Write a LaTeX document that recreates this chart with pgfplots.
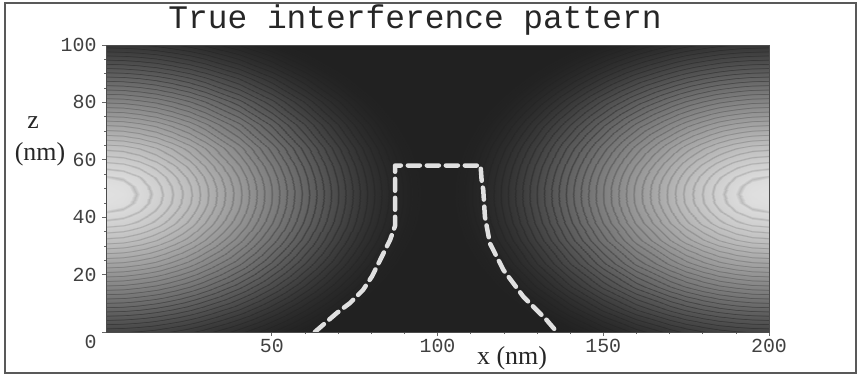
\documentclass[border=0pt]{standalone}
\usepackage{fontspec}
\setmainfont{Liberation Serif}
\newfontfamily\monofont{Liberation Mono}
\usepackage{pgfplots}
\pgfplotsset{compat=1.18}

% grey ramp over the phase-distance value (0..110): bright centre, linear fall-off,
% smooth levelling into the dark floor, with a thin darker contour ring every 2.115
\def\ringspec{}
\foreach \j in {0,...,260}{%
  \pgfmathsetmacro\mm{0.423077*\j}%
  \pgfmathsetmacro\dd{max(0,79.4-\mm)}%
  \pgfmathsetmacro\lin{0.88-0.01117*\mm}%
  \pgfmathsetmacro\qd{0.13+0.000229*\dd*\dd}%
  \pgfmathsetmacro\base{(\mm<55)*\lin+(\mm>=55)*\qd}%
  \pgfmathsetmacro\amp{0.12*min(1,(\base-0.13)/0.25)}%
  \pgfmathtruncatemacro\m{mod(\j,5)}%
  \pgfmathsetmacro\g{\base-(\m==0)*(\j>0)*\amp}%
  \xdef\ringspec{\ringspec gray=(\g) }%
}
\edef\tmp{\noexpand\pgfplotsset{colormap={rings}{\ringspec}}}
\tmp

\begin{document}
\begin{tikzpicture}[x=1bp,y=1bp]
\path[use as bounding box] (0,0) rectangle (859,376);
\begin{axis}[
  at={(106bp,44bp)}, anchor=south west,
  scale only axis, width=663bp, height=287bp,
  xmin=0, xmax=200, ymin=0, ymax=100,
  axis on top,
  colormap name=rings, point meta min=0, point meta max=110,
  xtick={50,100,150,200}, ytick={20,40,60,80,100},
  extra y ticks={0},
  extra y tick style={yticklabel style={yshift=-10bp}},
  minor x tick num=4, minor y tick num=3,
  tick align=outside, tick pos=left,
  major tick length=4bp, minor tick length=2bp,
  axis line style={black!70, line width=0.8bp},
  tick style={black!60, line width=0.6bp},
  /pgf/number format/assume math mode=true,
  ticklabel style={font=\monofont\fontsize{20}{20}\selectfont, text=black!75},
  yticklabel style={xshift=-2bp},
]
\addplot[surf, shader=interp, mesh/cols=27, point meta=explicit] coordinates {
(0,0)[54.7] (5,0)[54.9] (10,0)[55.4] (15,0)[56.2] (20,0)[57.4] (25,0)[58.8] (30,0)[60.5] (40,0)[64.8] (50,0)[69.9] (60,0)[75.8] (70,0)[82.4] (80,0)[89.5] (90,0)[97.0] (100,0)[104.8] (110,0)[97.0] (120,0)[89.5] (130,0)[82.4] (140,0)[75.8] (150,0)[69.9] (160,0)[64.8] (170,0)[60.5] (175,0)[58.8] (180,0)[57.4] (185,0)[56.2] (190,0)[55.4] (195,0)[54.9] (200,0)[54.7]

(0,8)[43.2] (5,8)[43.4] (10,8)[44.0] (15,8)[45.0] (20,8)[46.3] (25,8)[48.0] (30,8)[50.0] (40,8)[54.8] (50,8)[60.6] (60,8)[67.2] (70,8)[74.3] (80,8)[82.0] (90,8)[90.0] (100,8)[98.3] (110,8)[90.0] (120,8)[82.0] (130,8)[74.3] (140,8)[67.2] (150,8)[60.6] (160,8)[54.8] (170,8)[50.0] (175,8)[48.0] (180,8)[46.3] (185,8)[45.0] (190,8)[44.0] (195,8)[43.4] (200,8)[43.2]

(0,16)[32.0] (5,16)[32.2] (10,16)[33.0] (15,16)[34.1] (20,16)[35.7] (25,16)[37.7] (30,16)[40.0] (40,16)[45.6] (50,16)[52.1] (60,16)[59.4] (70,16)[67.2] (80,16)[75.4] (90,16)[83.9] (100,16)[92.7] (110,16)[83.9] (120,16)[75.4] (130,16)[67.2] (140,16)[59.4] (150,16)[52.1] (160,16)[45.6] (170,16)[40.0] (175,16)[37.7] (180,16)[35.7] (185,16)[34.1] (190,16)[33.0] (195,16)[32.2] (200,16)[32.0]

(0,24)[21.2] (5,24)[21.5] (10,24)[22.4] (15,24)[23.8] (20,24)[25.8] (25,24)[28.2] (30,24)[31.0] (40,24)[37.4] (50,24)[44.8] (60,24)[52.8] (70,24)[61.2] (80,24)[70.0] (90,24)[79.0] (100,24)[88.1] (110,24)[79.0] (120,24)[70.0] (130,24)[61.2] (140,24)[52.8] (150,24)[44.8] (160,24)[37.4] (170,24)[31.0] (175,24)[28.2] (180,24)[25.8] (185,24)[23.8] (190,24)[22.4] (195,24)[21.5] (200,24)[21.2]

(0,32)[11.2] (5,32)[11.6] (10,32)[12.8] (15,32)[14.7] (20,32)[17.1] (25,32)[20.0] (30,32)[23.3] (40,32)[30.8] (50,32)[39.0] (60,32)[47.6] (70,32)[56.7] (80,32)[65.9] (90,32)[75.3] (100,32)[84.8] (110,32)[75.3] (120,32)[65.9] (130,32)[56.7] (140,32)[47.6] (150,32)[39.0] (160,32)[30.8] (170,32)[23.3] (175,32)[20.0] (180,32)[17.1] (185,32)[14.7] (190,32)[12.8] (195,32)[11.6] (200,32)[11.2]

(0,38)[5.0] (5,38)[5.5] (10,38)[6.9] (15,38)[9.2] (20,38)[12.0] (25,38)[15.4] (30,38)[19.1] (40,38)[27.2] (50,38)[35.9] (60,38)[45.0] (70,38)[54.3] (80,38)[63.8] (90,38)[73.4] (100,38)[83.1] (110,38)[73.4] (120,38)[63.8] (130,38)[54.3] (140,38)[45.0] (150,38)[35.9] (160,38)[27.2] (170,38)[19.1] (175,38)[15.4] (180,38)[12.0] (185,38)[9.2] (190,38)[6.9] (195,38)[5.5] (200,38)[5.0]

(0,42)[1.9] (5,42)[2.5] (10,42)[4.1] (15,42)[6.6] (20,42)[9.7] (25,42)[13.3] (30,42)[17.2] (40,42)[25.6] (50,42)[34.6] (60,42)[43.9] (70,42)[53.4] (80,42)[63.0] (90,42)[72.6] (100,42)[82.4] (110,42)[72.6] (120,42)[63.0] (130,42)[53.4] (140,42)[43.9] (150,42)[34.6] (160,42)[25.6] (170,42)[17.2] (175,42)[13.3] (180,42)[9.7] (185,42)[6.6] (190,42)[4.1] (195,42)[2.5] (200,42)[1.9]

(0,45)[0.5] (5,45)[1.1] (10,45)[2.8] (15,45)[5.4] (20,45)[8.6] (25,45)[12.3] (30,45)[16.3] (40,45)[24.9] (50,45)[34.0] (60,45)[43.4] (70,45)[52.9] (80,45)[62.6] (90,45)[72.3] (100,45)[82.1] (110,45)[72.3] (120,45)[62.6] (130,45)[52.9] (140,45)[43.4] (150,45)[34.0] (160,45)[24.9] (170,45)[16.3] (175,45)[12.3] (180,45)[8.6] (185,45)[5.4] (190,45)[2.8] (195,45)[1.1] (200,45)[0.5]

(0,48)[0.0] (5,48)[0.6] (10,48)[2.4] (15,48)[5.0] (20,48)[8.3] (25,48)[12.0] (30,48)[16.1] (40,48)[24.7] (50,48)[33.9] (60,48)[43.2] (70,48)[52.8] (80,48)[62.5] (90,48)[72.2] (100,48)[82.0] (110,48)[72.2] (120,48)[62.5] (130,48)[52.8] (140,48)[43.2] (150,48)[33.9] (160,48)[24.7] (170,48)[16.1] (175,48)[12.0] (180,48)[8.3] (185,48)[5.0] (190,48)[2.4] (195,48)[0.6] (200,48)[0.0]

(0,51)[0.5] (5,51)[1.1] (10,51)[2.8] (15,51)[5.4] (20,51)[8.6] (25,51)[12.3] (30,51)[16.3] (40,51)[24.9] (50,51)[34.0] (60,51)[43.4] (70,51)[52.9] (80,51)[62.6] (90,51)[72.3] (100,51)[82.1] (110,51)[72.3] (120,51)[62.6] (130,51)[52.9] (140,51)[43.4] (150,51)[34.0] (160,51)[24.9] (170,51)[16.3] (175,51)[12.3] (180,51)[8.6] (185,51)[5.4] (190,51)[2.8] (195,51)[1.1] (200,51)[0.5]

(0,54)[1.9] (5,54)[2.5] (10,54)[4.1] (15,54)[6.6] (20,54)[9.7] (25,54)[13.3] (30,54)[17.2] (40,54)[25.6] (50,54)[34.6] (60,54)[43.9] (70,54)[53.4] (80,54)[63.0] (90,54)[72.6] (100,54)[82.4] (110,54)[72.6] (120,54)[63.0] (130,54)[53.4] (140,54)[43.9] (150,54)[34.6] (160,54)[25.6] (170,54)[17.2] (175,54)[13.3] (180,54)[9.7] (185,54)[6.6] (190,54)[4.1] (195,54)[2.5] (200,54)[1.9]

(0,58)[5.0] (5,58)[5.5] (10,58)[6.9] (15,58)[9.2] (20,58)[12.0] (25,58)[15.4] (30,58)[19.1] (40,58)[27.2] (50,58)[35.9] (60,58)[45.0] (70,58)[54.3] (80,58)[63.8] (90,58)[73.4] (100,58)[83.1] (110,58)[73.4] (120,58)[63.8] (130,58)[54.3] (140,58)[45.0] (150,58)[35.9] (160,58)[27.2] (170,58)[19.1] (175,58)[15.4] (180,58)[12.0] (185,58)[9.2] (190,58)[6.9] (195,58)[5.5] (200,58)[5.0]

(0,64)[11.2] (5,64)[11.6] (10,64)[12.8] (15,64)[14.7] (20,64)[17.1] (25,64)[20.0] (30,64)[23.3] (40,64)[30.8] (50,64)[39.0] (60,64)[47.6] (70,64)[56.7] (80,64)[65.9] (90,64)[75.3] (100,64)[84.8] (110,64)[75.3] (120,64)[65.9] (130,64)[56.7] (140,64)[47.6] (150,64)[39.0] (160,64)[30.8] (170,64)[23.3] (175,64)[20.0] (180,64)[17.1] (185,64)[14.7] (190,64)[12.8] (195,64)[11.6] (200,64)[11.2]

(0,72)[21.2] (5,72)[21.5] (10,72)[22.4] (15,72)[23.8] (20,72)[25.8] (25,72)[28.2] (30,72)[31.0] (40,72)[37.4] (50,72)[44.8] (60,72)[52.8] (70,72)[61.2] (80,72)[70.0] (90,72)[79.0] (100,72)[88.1] (110,72)[79.0] (120,72)[70.0] (130,72)[61.2] (140,72)[52.8] (150,72)[44.8] (160,72)[37.4] (170,72)[31.0] (175,72)[28.2] (180,72)[25.8] (185,72)[23.8] (190,72)[22.4] (195,72)[21.5] (200,72)[21.2]

(0,80)[32.0] (5,80)[32.2] (10,80)[33.0] (15,80)[34.1] (20,80)[35.7] (25,80)[37.7] (30,80)[40.0] (40,80)[45.6] (50,80)[52.1] (60,80)[59.4] (70,80)[67.2] (80,80)[75.4] (90,80)[83.9] (100,80)[92.7] (110,80)[83.9] (120,80)[75.4] (130,80)[67.2] (140,80)[59.4] (150,80)[52.1] (160,80)[45.6] (170,80)[40.0] (175,80)[37.7] (180,80)[35.7] (185,80)[34.1] (190,80)[33.0] (195,80)[32.2] (200,80)[32.0]

(0,88)[43.2] (5,88)[43.4] (10,88)[44.0] (15,88)[45.0] (20,88)[46.3] (25,88)[48.0] (30,88)[50.0] (40,88)[54.8] (50,88)[60.6] (60,88)[67.2] (70,88)[74.3] (80,88)[82.0] (90,88)[90.0] (100,88)[98.3] (110,88)[90.0] (120,88)[82.0] (130,88)[74.3] (140,88)[67.2] (150,88)[60.6] (160,88)[54.8] (170,88)[50.0] (175,88)[48.0] (180,88)[46.3] (185,88)[45.0] (190,88)[44.0] (195,88)[43.4] (200,88)[43.2]

(0,96)[54.7] (5,96)[54.9] (10,96)[55.4] (15,96)[56.2] (20,96)[57.4] (25,96)[58.8] (30,96)[60.5] (40,96)[64.8] (50,96)[69.9] (60,96)[75.8] (70,96)[82.4] (80,96)[89.5] (90,96)[97.0] (100,96)[104.8] (110,96)[97.0] (120,96)[89.5] (130,96)[82.4] (140,96)[75.8] (150,96)[69.9] (160,96)[64.8] (170,96)[60.5] (175,96)[58.8] (180,96)[57.4] (185,96)[56.2] (190,96)[55.4] (195,96)[54.9] (200,96)[54.7]

(0,100)[60.5] (5,100)[60.7] (10,100)[61.1] (15,100)[61.9] (20,100)[63.0] (25,100)[64.3] (30,100)[65.9] (40,100)[69.9] (50,100)[74.8] (60,100)[80.4] (70,100)[86.7] (80,100)[93.5] (90,100)[100.8] (100,100)[108.4] (110,100)[100.8] (120,100)[93.5] (130,100)[86.7] (140,100)[80.4] (150,100)[74.8] (160,100)[69.9] (170,100)[65.9] (175,100)[64.3] (180,100)[63.0] (185,100)[61.9] (190,100)[61.1] (195,100)[60.7] (200,100)[60.5]
};
% structure outline
\addplot[white!88!black, line width=4.5bp, dash pattern=on 12bp off 7bp, line cap=round, line join=round]
  coordinates {(63,0) (69.6,6.6) (73.6,10.1) (77.5,14.6) (80.2,19.3) (82.7,25.1) (85.7,32.1) (87.2,37) (87.2,58)
               (113,58) (113.3,53) (113.8,49.5) (114.3,40.2) (115.8,30.9) (119.9,21.6) (125.9,12.3) (132.9,4.2) (136,0)};
\end{axis}
\node[font=\monofont\fontsize{33}{33}\selectfont, anchor=base, text=black!85] at (415,348) {True interference pattern};
\node[font=\fontsize{26}{26}\selectfont, anchor=base, text=black!85] at (512,12) {x (nm)};
\node[font=\fontsize{26}{26}\selectfont, anchor=base, text=black!85] at (33,248) {z};
\node[font=\fontsize{26}{26}\selectfont, anchor=base, text=black!85] at (40,216) {(nm)};
\draw[black!65, line width=2bp] (5,3) rectangle (856,373);
\end{tikzpicture}
\end{document}
